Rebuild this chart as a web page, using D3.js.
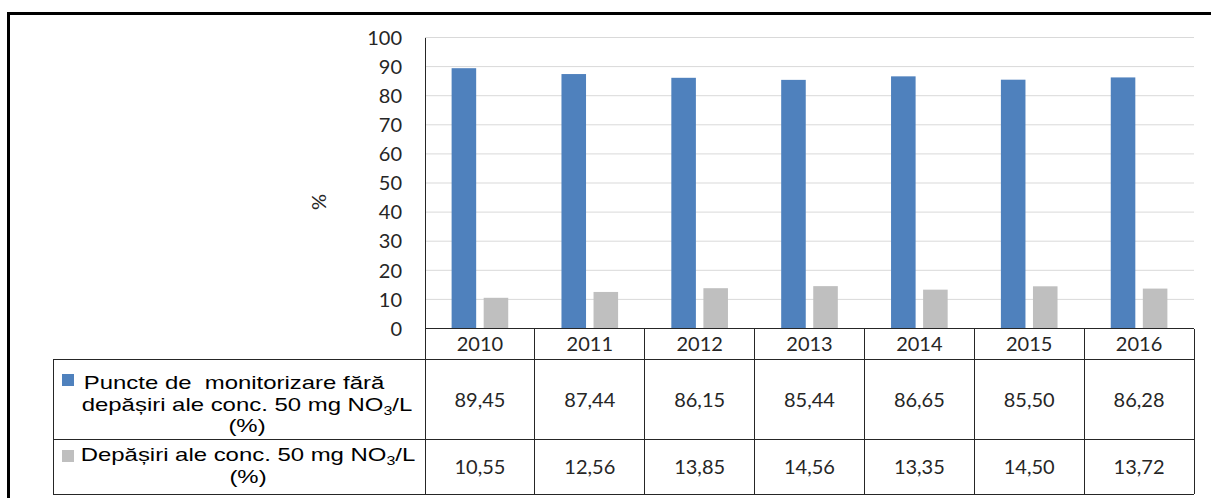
<!DOCTYPE html>
<html>
<head>
<meta charset="utf-8">
<script src="https://cdn.jsdelivr.net/npm/d3@7"></script>
<style>
  body { margin: 0; background: #fff; }
  svg { display: block; }
</style>
</head>
<body>
<div id="chart"></div>
<script>
// data
const years = ['2010', '2011', '2012', '2013', '2014', '2015', '2016']
const fara = [89.45, 87.44, 86.15, 85.44, 86.65, 85.50, 86.28]
const depasiri = [10.55, 12.56, 13.85, 14.56, 13.35, 14.50, 13.72]
const yTicks = [0, 10, 20, 30, 40, 50, 60, 70, 80, 90, 100]
const seriesNames = ['Puncte de  monitorizare fără', 'Depășiri']
const seriesColors = ['#4F81BD', '#BFBFBF']

const W = 1211, H = 498
const plotLeft = 425, plotRight = 1194
const tableLeft = 53
const y0 = 328.5, y100 = 37.5
const headBottom = 359.5, row1Bottom = 439.5, row2Bottom = 494

const svg = d3.select('#chart').append('svg')
  .attr('width', W)
  .attr('height', H)

const numFont = 'Lato, "Open Sans", sans-serif'
const legFont = '"Liberation Sans", Arial, sans-serif'

const x = d3.scaleBand()
  .domain(years)
  .range([plotLeft, plotRight])

const xSub = d3.scaleBand()
  .domain([0, 1])
  .range([0, x.bandwidth()])
  .paddingInner(0.234)
  .paddingOuter(0.83)

const y = d3.scaleLinear()
  .domain([0, 100])
  .range([y0, y100])

// gridlines
svg.append('g')
  .selectAll('line')
  .data(yTicks.filter(d => d > 0))
  .enter()
  .append('line')
  .attr('x1', plotLeft)
  .attr('x2', plotRight)
  .attr('y1', d => y(d))
  .attr('y2', d => y(d))
  .attr('stroke', '#D9D9D9')
  .attr('stroke-width', 1)

// y tick labels
svg.append('g')
  .selectAll('text')
  .data(yTicks)
  .enter()
  .append('text')
  .attr('x', 402)
  .attr('y', d => y(d))
  .attr('dy', '0.36em')
  .attr('text-anchor', 'end')
  .attr('font-family', numFont)
  .attr('font-size', 20)
  .attr('fill', '#262626')
  .text(d => d)

// axis title
svg.append('text')
  .attr('transform', 'translate(319,202) rotate(-90)')
  .attr('text-anchor', 'middle')
  .attr('dy', '0.36em')
  .attr('font-family', numFont)
  .attr('font-size', 20)
  .attr('fill', '#262626')
  .text('%')

// bars
const series = [fara, depasiri]
series.forEach((vals, si) => {
  svg.append('g')
    .selectAll('rect')
    .data(vals)
    .enter()
    .append('rect')
    .attr('x', (d, i) => x(years[i]) + xSub(si))
    .attr('width', xSub.bandwidth())
    .attr('y', d => y(d))
    .attr('height', d => y(0) - y(d))
    .attr('fill', seriesColors[si])
})

// data table
const grid = svg.append('g')
  .attr('stroke', '#262626')
  .attr('stroke-width', 1)
  .attr('shape-rendering', 'crispEdges')

// horizontal rules
grid.append('line').attr('x1', plotLeft).attr('x2', plotRight).attr('y1', y0).attr('y2', y0)
;[headBottom, row1Bottom, row2Bottom].forEach(yy => {
  grid.append('line').attr('x1', tableLeft).attr('x2', plotRight).attr('y1', yy).attr('y2', yy)
})
// axis line and left edge
grid.append('line').attr('x1', plotLeft).attr('x2', plotLeft).attr('y1', y100).attr('y2', row2Bottom)
grid.append('line').attr('x1', tableLeft).attr('x2', tableLeft).attr('y1', headBottom).attr('y2', row2Bottom)
// column separators
grid.selectAll('line.col')
  .data(years)
  .enter()
  .append('line')
  .attr('class', 'col')
  .attr('x1', d => x(d) + x.bandwidth())
  .attr('x2', d => x(d) + x.bandwidth())
  .attr('y1', y0)
  .attr('y2', row2Bottom)

// year header
svg.append('g')
  .selectAll('text')
  .data(years)
  .enter()
  .append('text')
  .attr('x', d => x(d) + x.bandwidth() / 2)
  .attr('y', (y0 + headBottom) / 2)
  .attr('dy', '0.36em')
  .attr('text-anchor', 'middle')
  .attr('font-family', numFont)
  .attr('font-size', 20)
  .attr('fill', '#262626')
  .text(d => d)

// value cells
const fmt = v => v.toFixed(2).replace('.', ',')
const rowMid = [(headBottom + row1Bottom) / 2, (row1Bottom + row2Bottom) / 2]
series.forEach((vals, si) => {
  svg.append('g')
    .selectAll('text')
    .data(vals)
    .enter()
    .append('text')
    .attr('x', (d, i) => x(years[i]) + x.bandwidth() / 2)
    .attr('y', rowMid[si])
    .attr('dy', '0.36em')
    .attr('text-anchor', 'middle')
    .attr('font-family', numFont)
    .attr('font-size', 20)
    .attr('fill', '#262626')
    .text(d => fmt(d))
})

// legend keys
svg.append('rect').attr('x', 62).attr('y', 374).attr('width', 12).attr('height', 12).attr('fill', seriesColors[0])
svg.append('rect').attr('x', 62).attr('y', 450).attr('width', 12).attr('height', 12).attr('fill', seriesColors[1])

// legend labels (wrapped like Excel does)
function legendLine(cx, by, build) {
  const t = svg.append('text')
    .attr('transform', 'translate(' + cx + ',' + by + ') scale(1.33,1)')
    .attr('text-anchor', 'middle')
    .attr('font-family', legFont)
    .attr('font-size', 18)
    .attr('fill', '#000')
    .style('white-space', 'pre')
  build(t)
}
function withNO3(prefix) {
  return t => {
    t.append('tspan').text(prefix + 'NO')
    t.append('tspan').attr('font-size', 12).attr('dy', 4).text('3')
    t.append('tspan').attr('dy', -4).text('/L')
  }
}
legendLine(234, 389, t => t.text(seriesNames[0]))
legendLine(247, 411, withNO3('depășiri ale conc. 50 mg '))
legendLine(247, 432, t => t.text('(%)'))
legendLine(248, 461, withNO3(seriesNames[1] + ' ale conc. 50 mg '))
legendLine(248, 483, t => t.text('(%)'))

// outer frame (top and left edge visible)
svg.append('path')
  .attr('d', 'M8.5,' + (H + 5) + 'V13.5H' + (W + 5))
  .attr('fill', 'none')
  .attr('stroke', '#000')
  .attr('stroke-width', 3)
</script>
</body>
</html>
